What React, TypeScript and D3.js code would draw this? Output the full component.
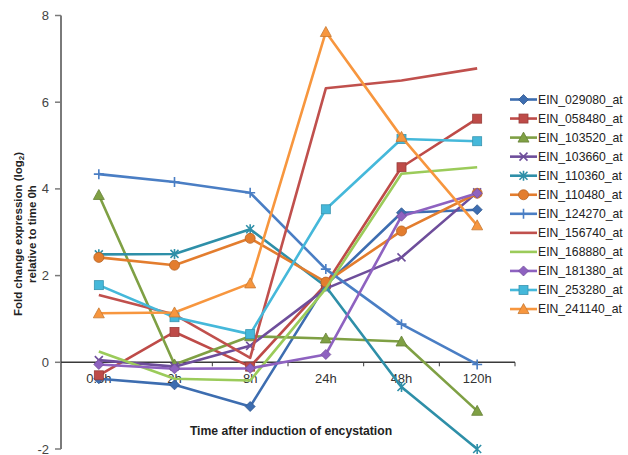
import React from "react";
import * as d3 from "d3";

const timepoints = ["0.5h", "2h", "8h", "24h", "48h", "120h"];
const yTicks = [-2, 0, 2, 4, 6, 8];

const seriesNames = [
  "EIN_029080_at",
  "EIN_058480_at",
  "EIN_103520_at",
  "EIN_103660_at",
  "EIN_110360_at",
  "EIN_110480_at",
  "EIN_124270_at",
  "EIN_156740_at",
  "EIN_168880_at",
  "EIN_181380_at",
  "EIN_253280_at",
  "EIN_241140_at",
];

const v029080 = [-0.38, -0.52, -1.02, 1.78, 3.45, 3.52];
const v058480 = [-0.3, 0.7, -0.1, 1.8, 4.5, 5.62];
const v103520 = [3.86, -0.05, 0.6, 0.55, 0.48, -1.12];
const v103660 = [0.05, -0.1, 0.38, 1.7, 2.42, 3.92];
const v110360 = [2.49, 2.5, 3.07, 1.75, -0.57, -2.0];
const v110480 = [2.42, 2.24, 2.86, 1.85, 3.03, 3.9];
const v124270 = [4.34, 4.16, 3.91, 2.15, 0.88, -0.05];
const v156740 = [1.55, 1.1, 0.1, 6.32, 6.5, 6.78];
const v168880 = [0.25, -0.38, -0.42, 1.7, 4.35, 4.5];
const v181380 = [-0.05, -0.15, -0.14, 0.18, 3.37, 3.9];
const v253280 = [1.78, 1.04, 0.65, 3.53, 5.15, 5.1];
const v241140 = [1.13, 1.15, 1.82, 7.62, 5.2, 3.16];

const seriesValues = [
  v029080, v058480, v103520, v103660, v110360, v110480,
  v124270, v156740, v168880, v181380, v253280, v241140,
];

const seriesColors = [
  "#3D6DB0", "#BE4B48", "#7FA044", "#6E4E9B", "#2E8FA8", "#E37D2E",
  "#4A7EC4", "#C0504D", "#9BCB5A", "#8E62C0", "#45B8DA", "#F7963E",
];

const seriesMarkers = [
  "diamond", "square", "triangle", "x", "star", "circle",
  "plus", "none", "none", "diamond", "square", "triangle",
];

const FONT = "'Liberation Sans', Arial, Helvetica, sans-serif";

function Marker({ kind, x, y, color }: { kind: string; x: number; y: number; color: string }) {
  const stroke = d3.color(color)!.darker(0.6).toString();
  switch (kind) {
    case "diamond":
      return (
        <path
          d={`M${x},${y - 5}L${x + 5},${y}L${x},${y + 5}L${x - 5},${y}Z`}
          fill={color}
          stroke={stroke}
          strokeWidth={0.8}
        />
      );
    case "square":
      return <rect x={x - 4.5} y={y - 4.5} width={9} height={9} fill={color} stroke={stroke} strokeWidth={0.8} />;
    case "triangle":
      return (
        <path
          d={`M${x},${y - 5.5}L${x + 5.5},${y + 4.5}L${x - 5.5},${y + 4.5}Z`}
          fill={color}
          stroke={stroke}
          strokeWidth={0.8}
        />
      );
    case "circle":
      return <circle cx={x} cy={y} r={5} fill={color} stroke={stroke} strokeWidth={0.8} />;
    case "x":
      return (
        <path
          d={`M${x - 4},${y - 4}L${x + 4},${y + 4}M${x - 4},${y + 4}L${x + 4},${y - 4}`}
          stroke={color}
          strokeWidth={1.6}
        />
      );
    case "star":
      return (
        <path
          d={`M${x - 4},${y - 4}L${x + 4},${y + 4}M${x - 4},${y + 4}L${x + 4},${y - 4}M${x},${y - 5}L${x},${y + 5}`}
          stroke={color}
          strokeWidth={1.6}
        />
      );
    case "plus":
      return (
        <path d={`M${x - 5},${y}L${x + 5},${y}M${x},${y - 5}L${x},${y + 5}`} stroke={color} strokeWidth={1.6} />
      );
    default:
      return null;
  }
}

export default function App() {
  const width = 628;
  const height = 455;

  const x = d3.scaleBand<string>().domain(timepoints).range([61, 515]).padding(0);
  const y = d3.scaleLinear().domain([-2, 8]).range([449, 15.5]);
  const cx = (t: string) => (x(t) as number) + x.bandwidth() / 2;

  const line = d3
    .line<number>()
    .x((_, i) => cx(timepoints[i]))
    .y((d) => y(d));

  const boundaries = timepoints.map((t) => (x(t) as number) + x.bandwidth());

  const legendX = 510;
  const legendY0 = 99.5;
  const legendStep = 19.05;

  return (
    <div style={{ position: "fixed", left: 0, top: 0, width, height, overflow: "hidden", background: "#fff" }}>
      <svg width={width} height={height} style={{ display: "block" }}>
        {/* y axis */}
        <line x1={61} x2={61} y1={y(8)} y2={y(-2)} stroke="#7a7a7a" strokeWidth={2} />
        {yTicks.map((t) => (
          <g key={t}>
            <line x1={55} x2={61} y1={y(t)} y2={y(t)} stroke="#7a7a7a" strokeWidth={1.5} />
            <text
              x={49}
              y={y(t)}
              textAnchor="end"
              dominantBaseline="central"
              fontFamily={FONT}
              fontSize={13}
              fill="#444"
            >
              {t}
            </text>
          </g>
        ))}

        {/* category labels */}
        {timepoints.map((t) => (
          <text
            key={t}
            x={cx(t)}
            y={y(0) + 16}
            textAnchor="middle"
            dominantBaseline="central"
            fontFamily={FONT}
            fontSize={13}
            fill="#333"
          >
            {t}
          </text>
        ))}

        {/* zero baseline with category ticks */}
        <line x1={61} x2={515} y1={y(0)} y2={y(0)} stroke="#3a3a3a" strokeWidth={1.5} />
        {boundaries.map((b, i) => (
          <line key={i} x1={b} x2={b} y1={y(0)} y2={y(0) + 4} stroke="#3a3a3a" strokeWidth={1} />
        ))}

        {/* series */}
        {seriesValues.map((vals, si) => (
          <g key={seriesNames[si]}>
            <path d={line(vals) || ""} fill="none" stroke={seriesColors[si]} strokeWidth={2.6} strokeLinejoin="round" />
            {vals.map((v, i) => (
              <Marker key={i} kind={seriesMarkers[si]} x={cx(timepoints[i])} y={y(v)} color={seriesColors[si]} />
            ))}
          </g>
        ))}

        {/* axis titles */}
        <text
          transform={`translate(18, 234) rotate(-90)`}
          textAnchor="middle"
          dominantBaseline="central"
          fontFamily={FONT}
          fontSize={11.5}
          fontWeight="bold"
          fill="#222"
        >
          Fold change expression (log
          <tspan fontSize={8} dy={3}>2</tspan>
          <tspan dy={-3}>)</tspan>
        </text>
        <text
          transform={`translate(32, 234) rotate(-90)`}
          textAnchor="middle"
          dominantBaseline="central"
          fontFamily={FONT}
          fontSize={11.5}
          fontWeight="bold"
          fill="#222"
        >
          relative to time 0h
        </text>
        <text
          x={291}
          y={431}
          textAnchor="middle"
          dominantBaseline="central"
          fontFamily={FONT}
          fontSize={12.2}
          fontWeight="bold"
          fill="#222"
        >
          Time after induction of encystation
        </text>

        {/* legend */}
        {seriesNames.map((name, i) => {
          const ly = legendY0 + i * legendStep;
          return (
            <g key={name}>
              <line x1={legendX} x2={legendX + 27} y1={ly} y2={ly} stroke={seriesColors[i]} strokeWidth={2.6} />
              <Marker kind={seriesMarkers[i]} x={legendX + 13.5} y={ly} color={seriesColors[i]} />
              <text
                x={legendX + 28}
                y={ly}
                dominantBaseline="central"
                fontFamily={FONT}
                fontSize={12.2}
                fill="#222"
              >
                {name}
              </text>
            </g>
          );
        })}
      </svg>
    </div>
  );
}
